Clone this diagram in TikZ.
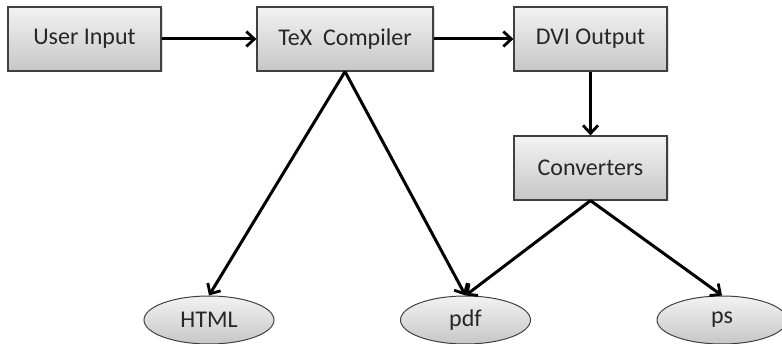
\documentclass[tikz,border=0pt]{standalone}
\usepackage{fontspec}
\setmainfont{Carlito}
\usetikzlibrary{shapes.geometric,arrows.meta,shadows}
\begin{document}
\begin{tikzpicture}[x=1pt,y=-1pt,
  boxnode/.style={draw=black!75,line width=1.2pt,rectangle,minimum height=64pt,inner sep=0pt,
    top color=black!5,bottom color=black!22,text=black!85,font=\fontsize{24}{27}\selectfont,
    drop shadow={shadow xshift=1.5pt,shadow yshift=-1.5pt,opacity=0.25}},
  ovalnode/.style={draw=black!75,line width=1pt,ellipse,minimum width=130pt,minimum height=48pt,inner sep=0pt,
    top color=black!5,bottom color=black!22,text=black!85,font=\fontsize{24}{27}\selectfont},
  conn/.style={line width=3pt,-{Straight Barb[length=8pt,width=15pt,line width=2.8pt]}}]
\useasboundingbox (0,0) rectangle (782,344);
\node[boxnode,minimum width=153pt] (user) at (84.5,39) {User Input};
\node[boxnode,minimum width=176pt] (tex) at (345,39) {TeX\ \ Compiler};
\node[boxnode,minimum width=153pt] (dvi) at (590.5,39) {DVI Output};
\node[boxnode,minimum width=153pt] (conv) at (590.5,168) {Converters};
\node[ovalnode] (html) at (209,320) {HTML};
\node[ovalnode] (pdf) at (465.5,320) {pdf};
\node[ovalnode] (ps) at (722,320) {ps};
\draw[conn] (user) -- (tex);
\draw[conn] (tex) -- (dvi);
\draw[conn] (dvi) -- (conv);
\draw[conn] (tex.south) -- (html.north);
\draw[conn] (tex.south) -- (pdf.north);
\draw[conn] (conv.south) -- (pdf.north);
\draw[conn] (conv.south) -- (ps.north);
\end{tikzpicture}
\end{document}
